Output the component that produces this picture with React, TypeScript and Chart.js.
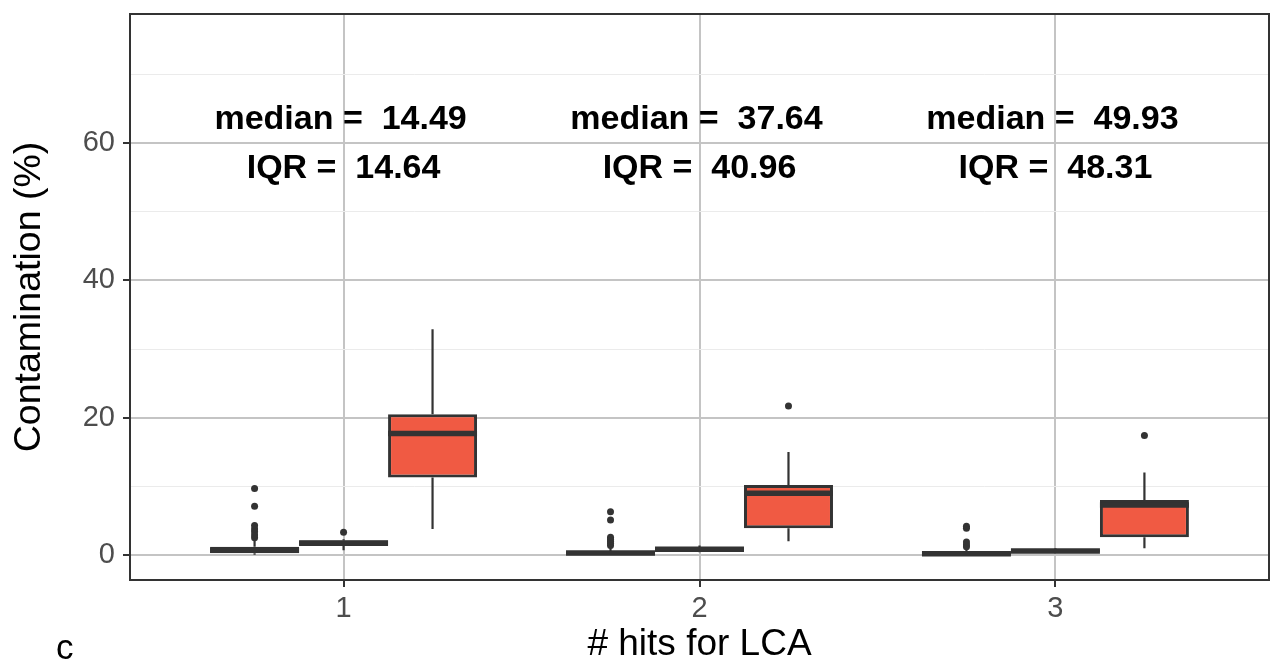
import React, { useEffect, useRef } from 'react';
import { Chart, registerables } from 'chart.js';

Chart.register(...registerables);

// ---- data ----
const categories = [1, 2, 3];
const xTickLabels = ['1', '2', '3'];
const yTicks = [0, 10, 20, 30, 40, 50, 60, 70];
const yLabelledTicks = [0, 20, 40, 60];
const dodge = [-0.25, 0, 0.25];

// [lower whisker, q1, median, q3, upper whisker] per category
const statsA = [
  [0.05, 0.25, 0.7, 1.2, 2.2],
  [0.0, 0.1, 0.3, 0.5, 1.1],
  [0.0, 0.05, 0.2, 0.4, 0.9],
];
const statsB = [
  [0.7, 1.3, 1.75, 2.1, 2.3],
  [0.4, 0.6, 0.85, 1.1, 1.4],
  [0.3, 0.45, 0.6, 0.8, 1.0],
];
const statsC = [
  [3.8, 11.3, 17.7, 20.5, 32.9],
  [2.0, 3.9, 9.0, 10.2, 15.0],
  [1.0, 2.6, 7.3, 8.0, 12.0],
];
const outliersA = [
  [2.5, 2.9, 3.4, 3.8, 4.3, 7.1, 9.7],
  [1.4, 1.7, 2.0, 2.3, 2.6, 5.1, 6.3],
  [1.2, 1.5, 1.9, 3.9, 4.2],
];
const outliersB = [[3.3], [], []];
const outliersC = [[], [21.7], [17.4]];

const medianLabels = ['14.49', '37.64', '49.93'];
const iqrLabels = ['14.64', '40.96', '48.31'];

const boxFills = ['#333333', '#333333', '#F05A43'];
const DARK = '#333333';
const FONT = '"Liberation Sans", Arial, Helvetica, sans-serif';

const allStats = [statsA, statsB, statsC];
const allOutliers = [outliersA, outliersB, outliersC];

const boxPlugin = {
  id: 'boxExtras',
  beforeDatasetsDraw(chart: any) {
    const ctx = chart.ctx;
    const y = chart.scales.y;
    ctx.save();
    ctx.strokeStyle = DARK;
    ctx.lineWidth = 2.2;
    allStats.forEach((stats, k) => {
      const meta = chart.getDatasetMeta(k);
      meta.data.forEach((el: any, j: number) => {
        const s = stats[j];
        ctx.beginPath();
        ctx.moveTo(el.x, y.getPixelForValue(s[3]));
        ctx.lineTo(el.x, y.getPixelForValue(s[4]));
        ctx.moveTo(el.x, y.getPixelForValue(s[1]));
        ctx.lineTo(el.x, y.getPixelForValue(s[0]));
        ctx.stroke();
      });
    });
    ctx.restore();
  },
  afterDatasetsDraw(chart: any) {
    const ctx = chart.ctx;
    const x = chart.scales.x;
    const y = chart.scales.y;
    const area = chart.chartArea;
    ctx.save();
    // medians
    ctx.strokeStyle = DARK;
    ctx.lineWidth = 5.5;
    ctx.lineCap = 'butt';
    allStats.forEach((stats, k) => {
      const meta = chart.getDatasetMeta(k);
      meta.data.forEach((el: any, j: number) => {
        const my = y.getPixelForValue(stats[j][2]);
        ctx.beginPath();
        ctx.moveTo(el.x - el.width / 2, my);
        ctx.lineTo(el.x + el.width / 2, my);
        ctx.stroke();
      });
    });
    // annotations
    ctx.fillStyle = '#000';
    ctx.font = `bold 34px ${FONT}`;
    ctx.textAlign = 'center';
    ctx.textBaseline = 'alphabetic';
    categories.forEach((c, i) => {
      const px = x.getPixelForValue(c);
      ctx.fillText(`median =  ${medianLabels[i]}`, px - 3, y.getPixelForValue(62.0));
      ctx.fillText(`IQR =  ${iqrLabels[i]}`, px, y.getPixelForValue(54.9));
    });
    // panel border
    ctx.strokeStyle = DARK;
    ctx.lineWidth = 2;
    ctx.strokeRect(area.left, area.top, area.right - area.left, area.bottom - area.top);
    // panel tag
    ctx.font = `35px ${FONT}`;
    ctx.textAlign = 'left';
    ctx.fillText('c', 56, 659);
    ctx.restore();
  },
};

export default function App() {
  const ref = useRef<HTMLCanvasElement>(null);
  useEffect(() => {
    const barDatasets = allStats.map((stats, k) => ({
      type: 'bar' as const,
      data: categories.map((c, j) => ({ x: c, y: [stats[j][1], stats[j][3]] })),
      backgroundColor: boxFills[k],
      borderColor: DARK,
      borderWidth: 3,
      borderSkipped: false,
      categoryPercentage: 0.75,
      barPercentage: 1.0,
      grouped: true,
    }));
    const pointDatasets = allOutliers.map((outs, k) => ({
      type: 'scatter' as const,
      data: categories.flatMap((c, j) => outs[j].map((v) => ({ x: c + dodge[k], y: v }))),
      pointRadius: 3.5,
      pointBackgroundColor: DARK,
      pointBorderWidth: 0,
      showLine: false,
    }));
    const chart = new Chart(ref.current as HTMLCanvasElement, {
      type: 'bar',
      data: { datasets: [...barDatasets, ...pointDatasets] as any },
      plugins: [boxPlugin],
      options: {
        animation: false,
        responsive: false,
        devicePixelRatio: 1,
        layout: { padding: { top: 14, right: 4, left: 0, bottom: 0 } },
        plugins: { legend: { display: false }, tooltip: { enabled: false } },
        scales: {
          x: {
            type: 'linear',
            min: 0.4,
            max: 3.6,
            offset: false,
            afterBuildTicks: (s: any) => {
              s.ticks = categories.map((v) => ({ value: v }));
            },
            afterFit: (s: any) => {
              s.height = 86;
              s.paddingLeft = 0;
              s.paddingRight = 0;
            },
            ticks: {
              autoSkip: false,
              maxRotation: 0,
              padding: 5,
              color: '#4d4d4d',
              font: { family: FONT, size: 29 },
              callback: (v: any) => {
                const i = categories.indexOf(Number(v));
                return i >= 0 ? xTickLabels[i] : '';
              },
            },
            grid: {
              offset: false,
              color: '#c4c4c4',
              lineWidth: 2,
              tickColor: DARK,
              tickLength: 7,
              tickWidth: 2,
            },
            border: { display: false },
            title: {
              display: true,
              text: '# hits for LCA',
              color: '#000',
              font: { family: FONT, size: 37 },
              padding: { top: 0, bottom: -1 },
            },
          } as any,
          y: {
            type: 'linear',
            min: -3.64,
            max: 78.8,
            afterBuildTicks: (s: any) => {
              s.ticks = yTicks.map((v) => ({ value: v }));
            },
            afterFit: (s: any) => {
              s.width = 130;
              s.paddingTop = 0;
              s.paddingBottom = 0;
            },
            ticks: {
              padding: 8,
              color: '#4d4d4d',
              font: { family: FONT, size: 29 },
              callback: (v: any) => (yLabelledTicks.includes(Number(v)) ? String(v) : ''),
            },
            grid: {
              color: (c: any) =>
                c.tick && yLabelledTicks.includes(c.tick.value) ? '#c4c4c4' : '#ebebeb',
              lineWidth: (c: any) => (c.tick && yLabelledTicks.includes(c.tick.value) ? 2 : 1),
              tickColor: (c: any) =>
                c.tick && yLabelledTicks.includes(c.tick.value) ? DARK : 'rgba(0,0,0,0)',
              tickLength: 7,
              tickWidth: 2,
            },
            border: { display: false },
            title: {
              display: true,
              text: 'Contamination (%)',
              color: '#000',
              font: { family: FONT, size: 37.5 },
              padding: { top: 7, bottom: 0 },
            },
          } as any,
        },
      },
    });
    return () => chart.destroy();
  }, []);
  return (
    <div style={{ position: 'absolute', left: 0, top: 0, width: 1273, height: 666, background: '#fff' }}>
      <canvas ref={ref} width={1273} height={666} style={{ display: 'block', width: 1273, height: 666 }} />
    </div>
  );
}
